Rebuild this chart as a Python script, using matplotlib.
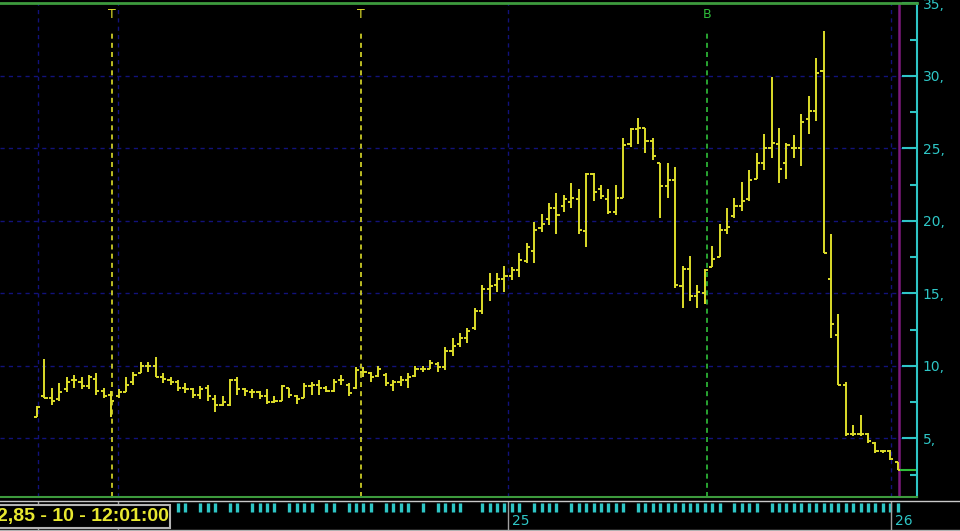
import matplotlib
matplotlib.use('Agg')
import matplotlib.pyplot as plt
import matplotlib.transforms as mtransforms
from matplotlib.patches import Rectangle
from matplotlib.lines import Line2D
from matplotlib.ticker import MultipleLocator, FuncFormatter

# daily OHLC bars
opens = [6.5, 7.9, 7.8, 7.7, 8.4, 9.0, 8.9, 8.6, 9.1, 8.3,
         8.0, 7.9, 8.2, 8.9, 9.5, 10.0, 10.0, 9.2, 9.0, 8.9,
         8.5, 8.4, 8.0, 8.45, 7.7, 7.3, 7.3, 9.0, 8.4, 8.2,
         8.2, 7.9, 7.5, 7.6, 8.5, 7.9, 7.8, 8.6, 8.7, 8.5,
         8.3, 9.0, 8.7, 8.5, 9.6, 9.5, 9.3, 9.4, 8.7, 8.9,
         9.0, 9.3, 9.8, 9.8, 10.1, 9.9, 11.0, 11.5, 11.9, 12.6,
         13.8, 15.3, 15.6, 16.0, 16.2, 16.6, 17.2, 17.9, 19.5, 20.1,
         20.9, 21.0, 21.3, 21.5, 19.3, 23.2, 22.2, 21.5, 20.6, 21.6,
         25.3, 26.3, 26.4, 25.5, 24.0, 22.4, 22.8, 15.5, 16.7, 14.8,
         15.0, 16.8, 17.5, 19.4, 20.3, 21.0, 21.5, 22.9, 24.0, 25.0,
         25.3, 24.0, 25.0, 25.0, 27.0, 27.6, 30.3, 16.0, 12.1, 8.7,
         5.3, 5.3, 5.3, 4.7, 4.1, 4.1, 3.4]
highs = [7.2, 10.5, 8.5, 8.8, 9.2, 9.4, 9.2, 9.4, 9.5, 8.5,
         8.3, 8.4, 9.2, 9.6, 10.3, 10.3, 10.6, 9.5, 9.2, 9.0,
         8.8, 8.5, 8.6, 8.7, 8.0, 7.9, 9.1, 9.2, 8.5, 8.4,
         8.3, 8.4, 7.9, 8.7, 8.5, 8.0, 8.8, 8.9, 9.0, 8.6,
         9.1, 9.4, 8.8, 9.9, 9.9, 9.6, 10.0, 9.5, 9.0, 9.3,
         9.5, 10.0, 10.0, 10.4, 10.3, 11.3, 11.9, 12.3, 12.6, 14.0,
         15.6, 16.4, 16.4, 16.9, 16.8, 17.8, 18.5, 19.9, 20.5, 21.2,
         21.9, 21.8, 22.6, 22.2, 23.3, 23.3, 22.5, 22.2, 22.5, 25.7,
         26.4, 27.1, 26.4, 25.7, 24.0, 24.0, 23.7, 16.9, 17.6, 15.6,
         16.7, 18.3, 19.8, 20.9, 21.6, 22.7, 23.5, 24.7, 26.0, 29.9,
         26.4, 25.4, 25.9, 27.4, 28.6, 31.2, 33.1, 19.1, 13.6, 8.9,
         5.9, 6.6, 5.4, 4.75, 4.2, 4.2, 3.4]
lows = [6.5, 7.8, 7.3, 7.6, 8.2, 8.5, 8.4, 8.4, 8.0, 7.8,
        6.5, 7.8, 8.2, 8.7, 9.5, 9.6, 9.2, 8.8, 8.7, 8.3,
        8.1, 7.8, 7.7, 7.6, 6.85, 7.2, 7.2, 8.0, 7.9, 7.8,
        7.7, 7.4, 7.45, 7.6, 7.8, 7.4, 7.8, 8.0, 8.0, 8.2,
        8.2, 8.7, 7.9, 8.4, 9.2, 8.9, 9.2, 8.6, 8.3, 8.6,
        8.5, 9.2, 9.6, 9.8, 9.6, 9.7, 10.7, 11.3, 11.6, 12.5,
        13.6, 14.5, 15.1, 15.1, 15.9, 16.1, 17.1, 17.1, 19.2, 19.7,
        19.1, 20.6, 20.9, 19.1, 18.2, 21.4, 21.5, 20.5, 20.4, 21.6,
        25.1, 25.3, 24.7, 24.2, 20.2, 21.6, 15.4, 14.0, 14.5, 14.0,
        14.3, 16.8, 17.5, 19.1, 20.2, 20.7, 21.4, 22.9, 23.5, 24.3,
        22.6, 22.9, 24.3, 23.8, 26.0, 26.9, 17.8, 11.9, 8.7, 5.2,
        5.2, 5.2, 4.7, 4.0, 4.0, 3.5, 2.8]
closes = [7.15, 7.8, 7.6, 8.2, 8.9, 9.0, 8.6, 9.2, 8.3, 7.9,
          7.6, 8.2, 8.7, 9.4, 10.0, 10.0, 9.2, 9.1, 8.9, 8.5,
          8.4, 8.0, 8.4, 7.9, 7.3, 7.5, 9.0, 8.4, 8.3, 8.2,
          7.9, 7.5, 7.6, 8.6, 8.0, 7.7, 8.6, 8.7, 8.5, 8.3,
          8.9, 9.0, 8.1, 9.7, 9.6, 9.2, 9.8, 8.8, 8.9, 9.0,
          9.2, 9.8, 9.8, 10.2, 9.9, 11.0, 11.4, 11.9, 12.4, 13.8,
          15.3, 15.5, 16.0, 16.2, 16.6, 17.3, 18.2, 19.4, 19.8, 20.9,
          20.4, 21.5, 21.6, 19.4, 23.2, 22.0, 21.7, 20.6, 21.6, 25.2,
          26.3, 26.4, 25.5, 24.5, 22.4, 22.8, 15.6, 16.7, 14.8, 15.1,
          16.6, 17.4, 19.4, 19.6, 21.0, 21.4, 22.8, 24.0, 25.0, 25.4,
          23.6, 25.2, 25.0, 26.8, 27.6, 30.2, 17.8, 12.9, 8.7, 5.3,
          5.3, 5.3, 4.8, 4.1, 4.1, 3.6, 2.85]

# signal markers above the chart
signal_x = [10.1, 43.7, 90.3]
signal_labels = ['T', 'T', 'B']

# year separators and day ticks on the time strip
year_x = [63.5, 115.1]
year_labels = ['25', '26']
grid_x = [0.1, 10.9, 63.5, 115.1]
day_ticks = ([19, 20, 22, 23, 24, 26, 27, 29, 30, 31, 32, 34, 35, 36, 37,
              39, 40, 42, 43, 44, 45, 47, 48, 49, 50, 52, 54, 55, 56, 57,
              60, 61, 62, 63, 64, 65, 67, 68, 69, 70]
             + list(range(72, 80)) + list(range(81, 93))
             + list(range(94, 98)) + list(range(99, 117)))
session = '10 - 12:01:00'

yellow = '#dcdc2a'
cyan = '#2ec6c6'
green = '#2fbf3a'
gridc = '#12127a'

W, H = 960, 531
fig = plt.figure(figsize=(9.6, 5.31), dpi=100, facecolor='black')
ax = fig.add_axes([0, (H - 497) / H, 917 / W, 494 / H])
ax.set_facecolor('black')
ax.set_xlim(-4.99, 118.6)
ax.set_ylim(0.96, 35.02)

idx = list(range(len(opens)))

# grid
for v in range(5, 35, 5):
    ax.axhline(v, color=gridc, lw=1, ls=(0, (3, 3)), zorder=0.5)
for gx in grid_x:
    ax.axvline(gx, color=gridc, lw=1, ls=(0, (3, 3)), zorder=0.5)

# signal lines
for sx, lab in zip(signal_x, signal_labels):
    c = green if lab == 'B' else yellow
    ax.axvline(sx, ymin=0, ymax=(497 - 33) / 494, color=c, lw=1.2,
               ls=(0, (3, 2.5)), zorder=1)
    ax.text(sx, (497 - 15) / 494, lab, color=c, fontsize=9,
            ha='center', va='center', transform=ax.get_xaxis_transform())

# current bar marker
ax.axvline(idx[-1] + 0.2, color='#7c1a7c', lw=1.8, zorder=1)

# OHLC bars
ax.vlines(idx, lows, highs, color=yellow, lw=1.4, zorder=2)
ax.hlines(opens, [i - 0.42 for i in idx], idx, color=yellow, lw=1.4, zorder=2)
ax.hlines(closes, idx, [i + 0.42 for i in idx], color=yellow, lw=1.4, zorder=2)
ax.hlines(closes[-1], idx[-1] + 0.3, 118.5, color=green, lw=1.5, zorder=2)

# right price axis
ax.yaxis.tick_right()
ax.yaxis.set_major_locator(MultipleLocator(5))
ax.yaxis.set_minor_locator(MultipleLocator(2.5))
ax.yaxis.set_major_formatter(FuncFormatter(lambda v, p: '%d,' % v))
ax.tick_params(axis='y', which='major', direction='in', length=11, width=1.5,
               colors=cyan, pad=4, labelsize=10)
ax.tick_params(axis='y', which='minor', direction='in', length=5, width=1.5,
               colors=cyan)
ax.set_xticks([])
ax.spines['left'].set_visible(False)
ax.spines['right'].set_color(cyan)
ax.spines['right'].set_linewidth(1.5)
ax.spines['top'].set_color('#3d9a3d')
ax.spines['top'].set_linewidth(2)
ax.spines['bottom'].set_color('#3d9a3d')
ax.spines['bottom'].set_linewidth(1.5)

# time strip below the chart
btrans = mtransforms.blended_transform_factory(ax.transData, fig.transFigure)
fig.add_artist(Line2D([0, 1], [1 - 501 / H] * 2, color='#c8c8c8', lw=1))
fig.add_artist(Line2D([0, 1], [1 - 530 / H] * 2, color='#b0b0b0', lw=1))
ax.vlines(day_ticks, 1 - 512 / H, 1 - 503 / H, transform=btrans, color=cyan,
          lw=2.4, clip_on=False)
ax.vlines(grid_x, 0, 1 - 501 / H, transform=btrans, color='#a0a0a0', lw=1,
          clip_on=False)
for yx, lab in zip(year_x, year_labels):
    ax.text(yx + 0.5, 1 - 521 / H, lab, transform=btrans, color=cyan,
            fontsize=10, ha='left', va='center')

# last price box
fig.add_artist(Rectangle((-2 / W, 1 - 528 / H), 172 / W, 23 / H,
                         transform=fig.transFigure, facecolor='black',
                         edgecolor='#b4b4b4', lw=1.5))
price_txt = ('%.2f' % closes[-1]).replace('.', ',')
fig.text(-3 / W, 1 - 517 / H, price_txt + ' - ' + session, color='#e8e830',
         fontsize=14, fontweight='bold', family='Liberation Sans',
         ha='left', va='center')

fig.savefig('out.png', dpi=100, facecolor='black')
